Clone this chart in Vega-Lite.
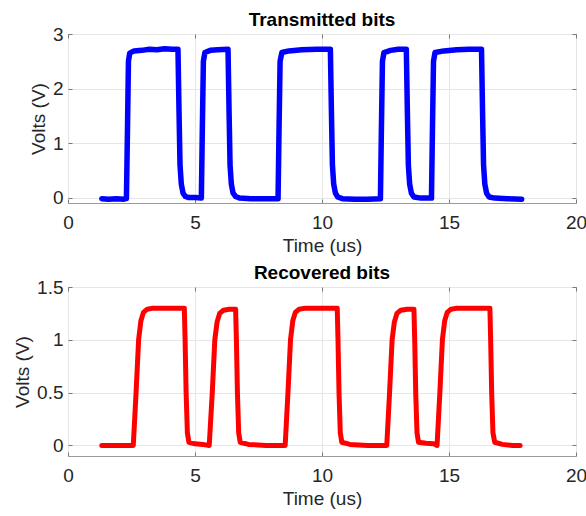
{
  "$schema": "https://vega.github.io/schema/vega-lite/v6.json",
  "padding": {"left": 13, "top": 10, "right": 4, "bottom": 4},
  "spacing": 7,
  "config": {
    "font": "Liberation Sans",
    "view": {"stroke": "#9a9a9a", "strokeWidth": 1},
    "axis": {
      "domain": false,
      "labelFontSize": 19,
      "labelColor": "#262626",
      "labelFlush": false,
      "labelOverlap": false,
      "titleFontSize": 19,
      "titleFontWeight": "normal",
      "titleColor": "#262626",
      "gridColor": "#e6e6e6",
      "gridWidth": 1,
      "tickColor": "#777777",
      "tickSize": -4,
      "tickWidth": 1
    },
    "axisX": {"labelPadding": 14, "titlePadding": 4},
    "axisY": {"labelPadding": 9, "titlePadding": 4},
    "title": {"fontSize": 19, "fontWeight": "bold", "color": "#000000", "offset": -5, "frame": "group"}
  },
  "datasets": {
    "tx": [
      {"t": 1.33, "v": -0.02}, {"t": 1.6, "v": -0.03}, {"t": 1.9, "v": -0.02}, {"t": 2.2, "v": -0.03}, {"t": 2.3, "v": -0.02},
      {"t": 2.34, "v": 1.2}, {"t": 2.38, "v": 2.5}, {"t": 2.43, "v": 2.65}, {"t": 2.6, "v": 2.69}, {"t": 2.9, "v": 2.7},
      {"t": 3.2, "v": 2.72}, {"t": 3.5, "v": 2.71}, {"t": 3.8, "v": 2.73}, {"t": 4.1, "v": 2.72}, {"t": 4.33, "v": 2.72},
      {"t": 4.37, "v": 1.6}, {"t": 4.41, "v": 0.6}, {"t": 4.46, "v": 0.25}, {"t": 4.53, "v": 0.08}, {"t": 4.62, "v": 0.02},
      {"t": 4.75, "v": 0.0}, {"t": 5.0, "v": 0.0}, {"t": 5.25, "v": -0.01},
      {"t": 5.29, "v": 1.3}, {"t": 5.33, "v": 2.5}, {"t": 5.39, "v": 2.66}, {"t": 5.6, "v": 2.7}, {"t": 5.9, "v": 2.71}, {"t": 6.3, "v": 2.72},
      {"t": 6.34, "v": 1.6}, {"t": 6.38, "v": 0.6}, {"t": 6.43, "v": 0.25}, {"t": 6.5, "v": 0.08}, {"t": 6.6, "v": 0.02},
      {"t": 6.75, "v": -0.01}, {"t": 7.2, "v": -0.02}, {"t": 7.7, "v": -0.02}, {"t": 8.27, "v": -0.02},
      {"t": 8.31, "v": 1.3}, {"t": 8.35, "v": 2.5}, {"t": 8.42, "v": 2.66}, {"t": 8.7, "v": 2.69}, {"t": 9.2, "v": 2.71}, {"t": 9.8, "v": 2.72}, {"t": 10.33, "v": 2.72},
      {"t": 10.37, "v": 1.6}, {"t": 10.41, "v": 0.6}, {"t": 10.46, "v": 0.25}, {"t": 10.53, "v": 0.08}, {"t": 10.62, "v": 0.01},
      {"t": 10.8, "v": -0.02}, {"t": 11.3, "v": -0.03}, {"t": 11.8, "v": -0.03}, {"t": 12.3, "v": -0.02},
      {"t": 12.34, "v": 1.3}, {"t": 12.38, "v": 2.5}, {"t": 12.44, "v": 2.66}, {"t": 12.7, "v": 2.7}, {"t": 13.0, "v": 2.72}, {"t": 13.32, "v": 2.72},
      {"t": 13.36, "v": 1.6}, {"t": 13.4, "v": 0.6}, {"t": 13.45, "v": 0.25}, {"t": 13.52, "v": 0.08}, {"t": 13.62, "v": 0.01},
      {"t": 13.9, "v": -0.01}, {"t": 14.31, "v": -0.01},
      {"t": 14.35, "v": 1.3}, {"t": 14.39, "v": 2.5}, {"t": 14.45, "v": 2.66}, {"t": 14.8, "v": 2.69}, {"t": 15.3, "v": 2.71}, {"t": 15.8, "v": 2.72}, {"t": 16.28, "v": 2.72},
      {"t": 16.32, "v": 1.6}, {"t": 16.36, "v": 0.6}, {"t": 16.41, "v": 0.25}, {"t": 16.48, "v": 0.08}, {"t": 16.58, "v": 0.01},
      {"t": 16.8, "v": -0.01}, {"t": 17.3, "v": -0.02}, {"t": 17.86, "v": -0.03}
    ],
    "rx": [
      {"t": 1.33, "v": 0.0}, {"t": 2.0, "v": 0.0}, {"t": 2.57, "v": 0.0},
      {"t": 2.68, "v": 0.5}, {"t": 2.78, "v": 1.0}, {"t": 2.87, "v": 1.18}, {"t": 2.97, "v": 1.26}, {"t": 3.12, "v": 1.29}, {"t": 3.35, "v": 1.3},
      {"t": 4.0, "v": 1.3}, {"t": 4.58, "v": 1.3},
      {"t": 4.61, "v": 1.0}, {"t": 4.65, "v": 0.5}, {"t": 4.7, "v": 0.12}, {"t": 4.76, "v": 0.03}, {"t": 5.0, "v": 0.015}, {"t": 5.3, "v": 0.01}, {"t": 5.56, "v": 0.0},
      {"t": 5.68, "v": 0.5}, {"t": 5.78, "v": 1.0}, {"t": 5.87, "v": 1.17}, {"t": 5.97, "v": 1.25}, {"t": 6.12, "v": 1.28}, {"t": 6.35, "v": 1.29}, {"t": 6.6, "v": 1.29},
      {"t": 6.63, "v": 1.0}, {"t": 6.67, "v": 0.5}, {"t": 6.72, "v": 0.12}, {"t": 6.78, "v": 0.03}, {"t": 7.1, "v": 0.01}, {"t": 7.8, "v": 0.0}, {"t": 8.55, "v": 0.0},
      {"t": 8.66, "v": 0.5}, {"t": 8.76, "v": 1.0}, {"t": 8.85, "v": 1.18}, {"t": 8.95, "v": 1.26}, {"t": 9.1, "v": 1.29}, {"t": 9.35, "v": 1.3}, {"t": 10.0, "v": 1.3}, {"t": 10.6, "v": 1.3},
      {"t": 10.63, "v": 1.0}, {"t": 10.67, "v": 0.5}, {"t": 10.72, "v": 0.12}, {"t": 10.78, "v": 0.03}, {"t": 11.1, "v": 0.01}, {"t": 11.8, "v": 0.0}, {"t": 12.55, "v": 0.0},
      {"t": 12.66, "v": 0.5}, {"t": 12.76, "v": 1.0}, {"t": 12.85, "v": 1.17}, {"t": 12.95, "v": 1.25}, {"t": 13.1, "v": 1.28}, {"t": 13.35, "v": 1.29}, {"t": 13.62, "v": 1.29},
      {"t": 13.65, "v": 1.0}, {"t": 13.69, "v": 0.5}, {"t": 13.74, "v": 0.12}, {"t": 13.8, "v": 0.03}, {"t": 14.1, "v": 0.02}, {"t": 14.4, "v": 0.015}, {"t": 14.53, "v": 0.0},
      {"t": 14.64, "v": 0.5}, {"t": 14.74, "v": 1.0}, {"t": 14.83, "v": 1.18}, {"t": 14.93, "v": 1.26}, {"t": 15.08, "v": 1.29}, {"t": 15.33, "v": 1.3}, {"t": 16.0, "v": 1.3}, {"t": 16.61, "v": 1.3},
      {"t": 16.64, "v": 1.0}, {"t": 16.68, "v": 0.5}, {"t": 16.73, "v": 0.12}, {"t": 16.8, "v": 0.03}, {"t": 17.1, "v": 0.01}, {"t": 17.5, "v": 0.0}, {"t": 17.8, "v": 0.0}
    ]
  },
  "vconcat": [
    {
      "title": "Transmitted bits",
      "width": 508,
      "height": 169,
      "data": {"name": "tx"},
      "layer": [
        {
          "mark": {"type": "line", "color": "#0000ff", "strokeWidth": 5.5, "strokeJoin": "round", "strokeCap": "round"},
          "encoding": {
            "x": {"field": "t", "type": "quantitative", "scale": {"domain": [0, 20], "nice": false, "zero": false},
                  "axis": {"values": [0, 5, 10, 15, 20], "title": "Time (us)", "grid": true}},
            "y": {"field": "v", "type": "quantitative", "scale": {"domain": [-0.1, 3], "nice": false, "zero": false},
                  "axis": {"values": [0, 1, 2, 3], "format": "~g", "title": "Volts (V)", "grid": true}}
          }
        },
        {
          "mark": {"type": "line", "strokeOpacity": 0},
          "encoding": {
            "x": {"field": "t", "type": "quantitative", "scale": {"domain": [0, 20], "nice": false, "zero": false},
                  "axis": {"orient": "top", "values": [0, 5, 10, 15, 20], "labels": false, "labelPadding": 0, "minExtent": 0, "title": null, "grid": false}},
            "y": {"field": "v", "type": "quantitative", "scale": {"domain": [-0.1, 3], "nice": false, "zero": false},
                  "axis": {"orient": "right", "values": [0, 1, 2, 3], "labels": false, "labelPadding": 0, "minExtent": 0, "title": null, "grid": false}}
          }
        }
      ],
      "resolve": {"scale": {"x": "independent", "y": "independent"}, "axis": {"x": "independent", "y": "independent"}}
    },
    {
      "title": "Recovered bits",
      "width": 508,
      "height": 169,
      "data": {"name": "rx"},
      "layer": [
        {
          "mark": {"type": "line", "color": "#ff0000", "strokeWidth": 5, "strokeJoin": "round", "strokeCap": "round"},
          "encoding": {
            "x": {"field": "t", "type": "quantitative", "scale": {"domain": [0, 20], "nice": false, "zero": false},
                  "axis": {"values": [0, 5, 10, 15, 20], "title": "Time (us)", "grid": true}},
            "y": {"field": "v", "type": "quantitative", "scale": {"domain": [-0.1, 1.5], "nice": false, "zero": false},
                  "axis": {"values": [0, 0.5, 1, 1.5], "format": "~g", "title": "Volts (V)", "grid": true}}
          }
        },
        {
          "mark": {"type": "line", "strokeOpacity": 0},
          "encoding": {
            "x": {"field": "t", "type": "quantitative", "scale": {"domain": [0, 20], "nice": false, "zero": false},
                  "axis": {"orient": "top", "values": [0, 5, 10, 15, 20], "labels": false, "labelPadding": 0, "minExtent": 0, "title": null, "grid": false}},
            "y": {"field": "v", "type": "quantitative", "scale": {"domain": [-0.1, 1.5], "nice": false, "zero": false},
                  "axis": {"orient": "right", "values": [0, 0.5, 1, 1.5], "labels": false, "labelPadding": 0, "minExtent": 0, "title": null, "grid": false}}
          }
        }
      ],
      "resolve": {"scale": {"x": "independent", "y": "independent"}, "axis": {"x": "independent", "y": "independent"}}
    }
  ]
}
